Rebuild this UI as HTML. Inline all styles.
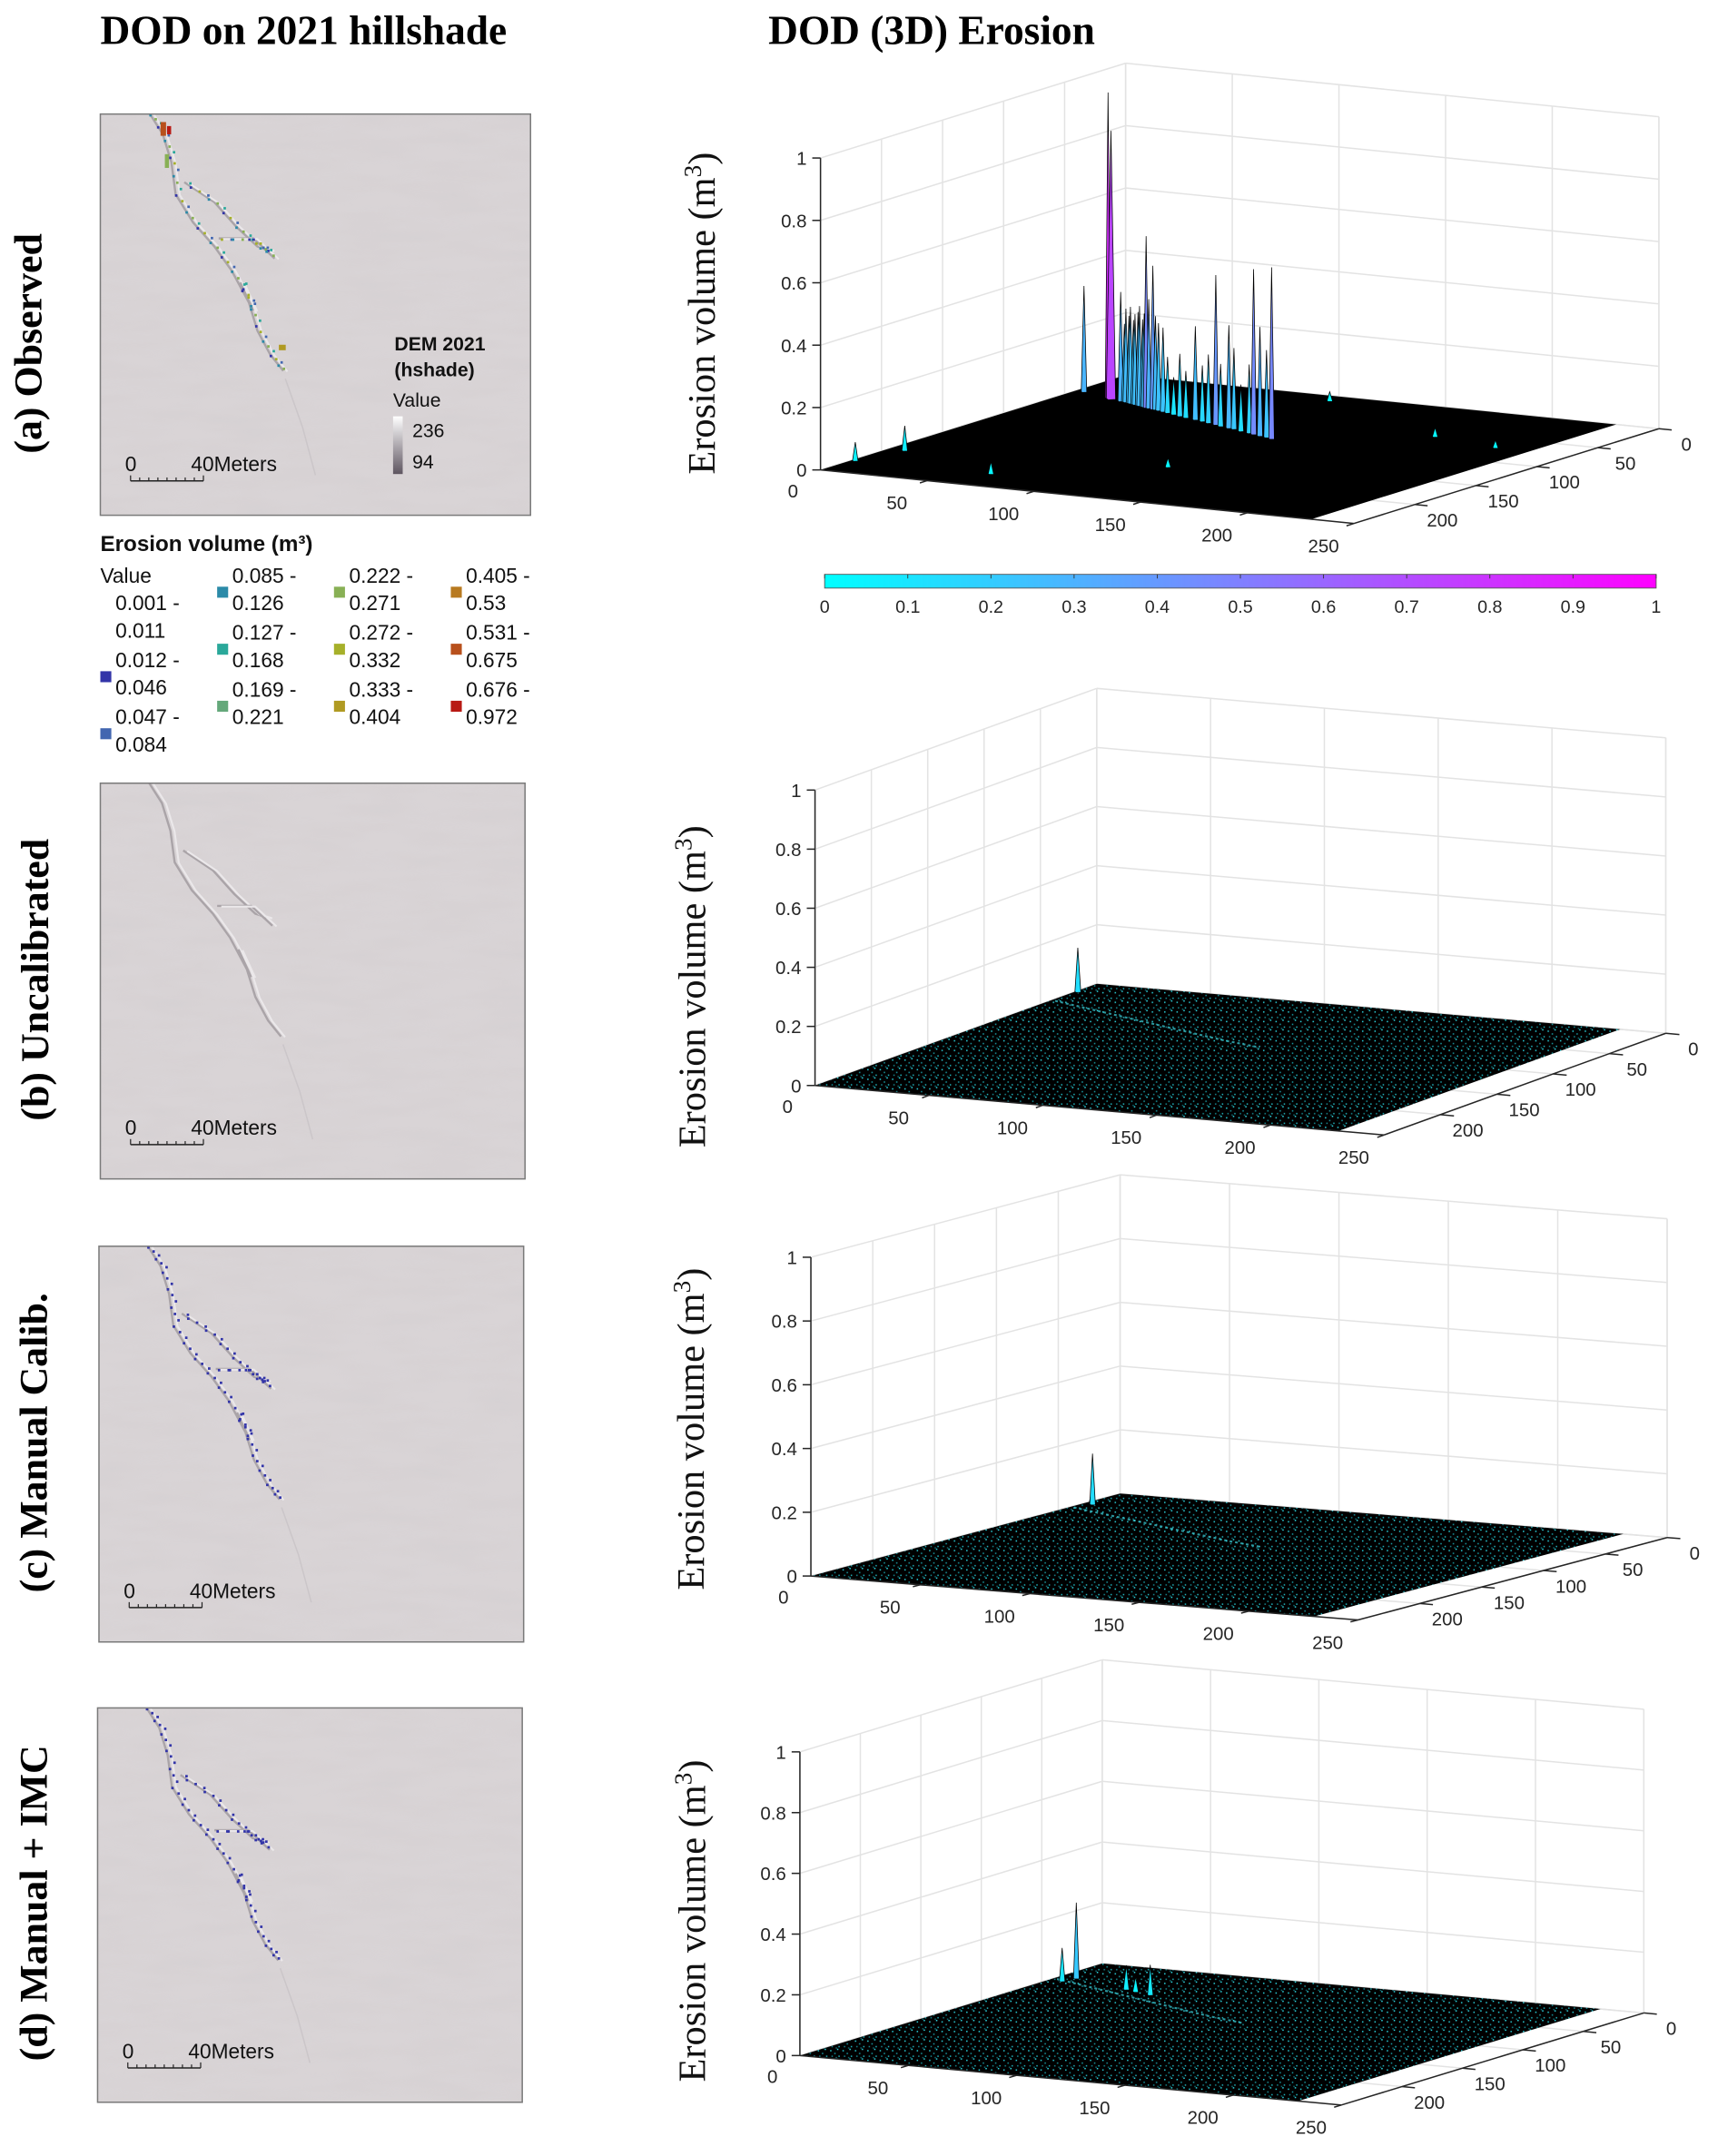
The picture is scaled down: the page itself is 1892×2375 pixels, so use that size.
<!DOCTYPE html>
<html><head><meta charset="utf-8">
<style>
html,body{margin:0;padding:0;background:#fff;}
body{width:1892px;height:2368px;overflow:hidden;position:relative;}
#stage{position:absolute;left:0;top:0;width:1250px;height:1564px;transform:scale(1.5136);transform-origin:0 0;}
svg text{font-family:"Liberation Sans",sans-serif;}
svg text.ser, svg .ser text{font-family:"Liberation Serif",serif;}
</style></head>
<body>
<div id="stage">
<svg id="fig" width="1250" height="1564" viewBox="0 0 1250 1564" xmlns="http://www.w3.org/2000/svg">
<defs>
 <filter id="hs" x="0" y="0" width="1" height="1">
  <feTurbulence type="fractalNoise" baseFrequency="0.02 0.09" numOctaves="3" seed="4" result="n"/>
  <feColorMatrix type="matrix" values="0 0 0 0 0.5  0 0 0 0 0.48  0 0 0 0 0.5  0 0 0 0.9 -0.3"/>
 </filter>
 <pattern id="speck" width="9" height="7" patternUnits="userSpaceOnUse">
  <rect x="0" y="0" width="9" height="7" fill="#000"/>
  <rect x="1" y="1" width="1" height="1" fill="#2bd0da"/>
  <rect x="4" y="3" width="1" height="1" fill="#1a9aa3"/>
  <rect x="6" y="0" width="1" height="1" fill="#30d8e2"/>
  <rect x="2" y="5" width="1" height="1" fill="#168890"/>
  <rect x="7" y="5" width="1" height="1" fill="#22b4bd"/>
  <rect x="5" y="6" width="1" height="1" fill="#0f6a70"/>
 </pattern>
 <linearGradient id="cool" x1="0" x2="1" y1="0" y2="0">
  <stop offset="0" stop-color="#00ffff"/><stop offset="1" stop-color="#ff00ff"/>
 </linearGradient>
 <linearGradient id="dem" x1="0" x2="0" y1="0" y2="1">
  <stop offset="0" stop-color="#ffffff"/><stop offset="1" stop-color="#5e5560"/>
 </linearGradient>
</defs>

<text class="ser" x="73" y="32" font-size="30" font-weight="bold">DOD on 2021 hillshade</text>
<text class="ser" x="559" y="32" font-size="30" font-weight="bold">DOD (3D) Erosion</text>

<g class="ser" font-size="29" font-weight="bold">
 <text class="ser" transform="translate(30,250) rotate(-90)" text-anchor="middle">(a) Observed</text>
 <text class="ser" transform="translate(35,713) rotate(-90)" text-anchor="middle">(b) Uncalibrated</text>
 <text class="ser" transform="translate(34,1050) rotate(-90)" text-anchor="middle">(c) Manual Calib.</text>
 <text class="ser" transform="translate(34,1385) rotate(-90)" text-anchor="middle">(d) Manual + IMC</text>
</g>

<g id="maps"></g>

<g>
 <text x="287" y="255" font-size="14" font-weight="bold" fill="#111">DEM 2021</text>
 <text x="287" y="274" font-size="14" font-weight="bold" fill="#111">(hshade)</text>
 <text x="286" y="296" font-size="14" fill="#111">Value</text>
 <rect x="286" y="303" width="7" height="42" fill="url(#dem)"/>
 <text x="300" y="318" font-size="14" fill="#111">236</text>
 <text x="300" y="341" font-size="14" fill="#111">94</text>
</g>

<g id="elegend">
 <text x="73" y="401" font-size="16" font-weight="bold" fill="#111">Erosion volume  (m³)</text>
 <text x="73" y="424" font-size="15" fill="#111">Value</text>
</g>

<g id="plots"></g>
</svg>
</div>
<script>
// ===== chart data =====
const panelNames = ['observed','uncalibrated','manual-calib','manual-imc'];
const zTicks = [0,0.2,0.4,0.6,0.8,1];
const zTickLabels = ['0','0.2','0.4','0.6','0.8','1'];
const xTicks = [50,100,150,200,250];
const yTicks = [0,50,100,150,200];
const cbTicks = [0,0.1,0.2,0.3,0.4,0.5,0.6,0.7,0.8,0.9,1];
// spikes (x, y, erosion volume m3)
const spikesA_x = [4.5,20,22,28,30,31,33,34,36,37,39,40,42,43,44.5,46,48.6,50,52,55,58,62,66,70,75.6,80,84,88.6,92,97,100,105,110,113,117,121,124.5,2,8,65,120,102,180,214];
const spikesA_y = [42,49.4,50.5,53,53.5,54,55,55.5,56.5,57,58,58.5,59.5,60,61,61.5,62.6,63,64,65.5,67,69,71,73,75,77,79,81,83,85,86,89,91,92.6,94.5,96,98,225,195,224,175,11,61,71];
const spikesA_z = [0.34,0.98,0.86,0.35,0.25,0.30,0.28,0.31,0.27,0.29,0.30,0.32,0.28,0.30,0.55,0.35,0.46,0.30,0.28,0.27,0.18,0.12,0.20,0.15,0.30,0.18,0.22,0.48,0.20,0.33,0.26,0.15,0.22,0.53,0.35,0.28,0.55,0.06,0.08,0.04,0.03,0.03,0.03,0.025];
const spikesB_x = [1.4];
const spikesB_y = [19.6];
const spikesB_z = [0.15];
const spikesC_x = [4.8,3];
const spikesC_y = [30.8,28];
const spikesC_z = [0.16,0.05];
const spikesD_x = [8.4,6.6,39,54,45];
const spikesD_y = [36.5,45,50,57,53];
const spikesD_z = [0.25,0.11,0.08,0.10,0.05];
// legend classes
const legendLabels = ['0.001 -|0.011','0.012 -|0.046','0.047 -|0.084','0.085 -|0.126','0.127 -|0.168','0.169 -|0.221','0.222 -|0.271','0.272 -|0.332','0.333 -|0.404','0.405 -|0.53','0.531 -|0.675','0.676 -|0.972'];
const legendColors = [null,'#3234a8','#4266b0','#2b8aa8','#2aa89a','#64a87a','#88b055','#a6b02a','#b09a22','#b87a20','#b8501c','#b81a14'];

// ===== layout =====
const NS='http://www.w3.org/2000/svg';
function mk(tag,attrs,parent){const e=document.createElementNS(NS,tag);for(const k in attrs)e.setAttribute(k,attrs[k]);if(parent)parent.appendChild(e);return e;}
const panels=[
 {L:[597,342],ex:[1.552,0.156],R:[1207,312],zs:227,sx:spikesA_x,sy:spikesA_y,sz:spikesA_z,speck:false,zl:[520,228],cb:true},
 {L:[593,790],ex:[1.656,0.144],R:[1212,752],zs:215,sx:spikesB_x,sy:spikesB_y,sz:spikesB_z,speck:true,zl:[513,718]},
 {L:[590,1147],ex:[1.592,0.128],R:[1213,1119],zs:232,sx:spikesC_x,sy:spikesC_y,sz:spikesC_z,speck:true,zl:[512,1040]},
 {L:[582,1496],ex:[1.576,0.144],R:[1196,1465],zs:221,sx:spikesD_x,sy:spikesD_y,sz:spikesD_z,speck:true,zl:[513,1398]}
];
const gullyPathX=[2,20,40,60,80,100,120];
const gullyPathY=[41,50,60,70,80,90,98];
function cool(v){v=Math.max(0,Math.min(1,v));return 'rgb('+Math.round(255*v)+','+Math.round(255*(1-v))+',255)';}
const plots=document.getElementById('plots');
panels.forEach((p,i)=>{
 const F=[p.L[0]+250*p.ex[0],p.L[1]+250*p.ex[1]];
 const ey=[(F[0]-p.R[0])/250,(F[1]-p.R[1])/250];
 const B=[p.L[0]+p.R[0]-F[0],p.L[1]+p.R[1]-F[1]];
 const P=(x,y,z)=>[B[0]+x*p.ex[0]+y*ey[0],B[1]+x*p.ex[1]+y*ey[1]-z*p.zs];
 const g=mk('g',{},plots);
 
 
 const line=(a,b,st,w)=>mk('line',{x1:a[0].toFixed(1),y1:a[1].toFixed(1),x2:b[0].toFixed(1),y2:b[1].toFixed(1),stroke:st,'stroke-width':w},g);
 const grid='#e3e3e3';
 zTicks.forEach(z=>{line(P(0,0,z),P(0,250,z),grid,1);line(P(0,0,z),P(250,0,z),grid,1);});
 [0,50,100,150,200,250].forEach(v=>{line(P(0,v,0),P(0,v,1),grid,1);line(P(v,0,0),P(v,0,1),grid,1);
   line(P(v,0,0),P(v,250,0),grid,1);line(P(0,v,0),P(250,v,0),grid,1);});
 line(P(250,0,0),P(250,0,1),grid,1);
 const pts=[P(0,0,0),P(230,0,0),P(230,250,0),P(0,250,0)].map(q=>q[0].toFixed(1)+','+q[1].toFixed(1)).join(' ');
 const pl=mk('polygon',{points:pts,fill:p.speck?'url(#speck)':'#000'},g);
 
 
 if(p.speck){
  const gp=gullyPathX.map((x,k)=>P(x,gullyPathY[k],0)).map(q=>q[0].toFixed(1)+','+q[1].toFixed(1)).join(' ');
  const gl=mk('polyline',{points:gp,fill:'none',stroke:'#3fd6e0','stroke-width':1.4,'stroke-dasharray':'2 2',opacity:0.7},g);
  
  
 }
 const idx=p.sx.map((_,k)=>k).sort((a,b)=>P(p.sx[a],p.sy[a],0)[1]-P(p.sx[b],p.sy[b],0)[1]);
 idx.forEach(k=>{
  const x=p.sx[k],y=p.sy[k],z=p.sz[k];
  const w=z>0.8&&z<0.9?2.2:1.3;
  const a=P(x-w,y,0),b=P(x+w,y,0),d=P(x,y+w,0),t=P(x,y,z);
  const s=mk('polygon',{points:[a,t,b,d].map(q=>q[0].toFixed(1)+','+q[1].toFixed(1)).join(' '),fill:cool(z*0.85),stroke:'#000','stroke-width':0.5},g);
  
  
 });
 const ax='#262626';
 line(P(0,250,0),P(0,250,1),ax,1);
 line(P(0,250,0),P(250,250,0),ax,1);
 line(P(250,250,0),P(250,0,0),ax,1);
 zTicks.forEach((z,j)=>{const q=P(0,250,z);line([q[0]-6,q[1]],q,ax,1);
  const t=mk('text',{x:q[0]-10,y:q[1]+5,'text-anchor':'end','font-size':13.5,fill:ax},g);t.textContent=zTickLabels[j];
  });
 const l0=P(0,250,0);const t0=mk('text',{x:l0[0]-20,y:l0[1]+20,'text-anchor':'middle','font-size':13.5,fill:ax},g);t0.textContent='0';
 xTicks.forEach(v=>{const q=P(v,250,0);line(q,[q[0]+ey[0]*6,q[1]+ey[1]*6],ax,1);
  const t=mk('text',{x:q[0]-22,y:q[1]+21,'text-anchor':'middle','font-size':13.5,fill:ax},g);t.textContent=v;
  });
 yTicks.forEach(v=>{const q=P(250,v,0);line(q,[q[0]+p.ex[0]*6,q[1]+p.ex[1]*6],ax,1);
  const t=mk('text',{x:q[0]+20,y:q[1]+16,'text-anchor':'middle','font-size':13.5,fill:ax},g);t.textContent=v;
  });
 const zl=mk('text',{transform:'translate('+p.zl[0]+','+p.zl[1]+') rotate(-90)','text-anchor':'middle','font-size':28,fill:'#111',class:'ser'},g);
 zl.innerHTML='Erosion volume (m<tspan dy="-10" font-size="18">3</tspan><tspan dy="10">)</tspan>';
 
 
 if(p.cb){
  const cg=mk('g',{},g);
  
  
  const x0=600,x1=1205;
  mk('rect',{x:x0,y:418,width:x1-x0,height:10,fill:'url(#cool)',stroke:'#555','stroke-width':0.6},cg);
  cbTicks.forEach(v=>{const x=x0+(x1-x0)*v;mk('line',{x1:x,y1:418,x2:x,y2:421,stroke:'#333','stroke-width':0.6},cg);
   const t=mk('text',{x:x,y:446,'text-anchor':'middle','font-size':13,fill:ax},cg);t.textContent=v;
   });
 }
});

// ===== maps =====
const maps=[[73,83,313,292],[73,570,309,288],[72,907,309,288],[71,1243,309,287]];
const trunk=[[0.12,0],[0.15,0.05],[0.17,0.12],[0.18,0.2],[0.22,0.27],[0.27,0.33],[0.31,0.39],[0.35,0.47],[0.37,0.54],[0.40,0.6],[0.43,0.64]];
const br1=[[0.2,0.17],[0.27,0.22],[0.32,0.28],[0.37,0.33],[0.40,0.34]];
const br2=[[0.28,0.31],[0.36,0.31],[0.41,0.36]];
const br3=[[0.33,0.42],[0.36,0.49]];
const mg=document.getElementById('maps');
maps.forEach((m,i)=>{
 const g=mk('g',{},mg);
 
 
 mk('rect',{x:m[0],y:m[1],width:m[2],height:m[3],fill:'#d9d4d6'},g);
 mk('rect',{x:m[0],y:m[1],width:m[2],height:m[3],filter:'url(#hs)',opacity:0.2},g);
 const toP=a=>a.map(q=>(m[0]+q[0]*m[2]).toFixed(1)+','+(m[1]+q[1]*m[3]).toFixed(1)).join(' ');
 [trunk,br1,br2,br3].forEach(b=>{
  mk('polyline',{points:toP(b),fill:'none',stroke:'#aaa4a8','stroke-width':1.6,transform:'translate(-1.5,0)'},g);
  mk('polyline',{points:toP(b),fill:'none',stroke:'#ebe8ea','stroke-width':1.4,transform:'translate(1.5,0.5)'},g);
 });
 mk('polyline',{points:toP([[0.43,0.66],[0.47,0.78],[0.5,0.9]]),fill:'none',stroke:'#cbc6c9','stroke-width':1},g);
 if(i!==1){
  const cols=i===0?['#2b8aa8','#88b055','#2aa89a','#3234a8','#a6b02a','#4266b0']:['#3234a8'];
  let c=0;
  [trunk,br1,br2,br3].forEach(b=>{
   for(let s=0;s<b.length-1;s++){for(let f=0;f<1;f+=0.2){
    const x=m[0]+(b[s][0]+(b[s+1][0]-b[s][0])*f)*m[2]+((c%3)-1)*2;
    const y=m[1]+(b[s][1]+(b[s+1][1]-b[s][1])*f)*m[3];
    mk('rect',{x:x.toFixed(1),y:y.toFixed(1),width:1.8,height:1.8,fill:cols[c%cols.length]},g);c++;}}
  });
  if(i===0){mk('rect',{x:m[0]+0.14*m[2],y:m[1]+0.02*m[3],width:4,height:10,fill:'#b8501c'},g);
   mk('rect',{x:m[0]+0.155*m[2],y:m[1]+0.03*m[3],width:3,height:6,fill:'#b81a14'},g);
   mk('rect',{x:m[0]+0.15*m[2],y:m[1]+0.1*m[3],width:3,height:10,fill:'#88b055'},g);
   mk('rect',{x:m[0]+0.415*m[2],y:m[1]+0.575*m[3],width:5,height:4,fill:'#b09a22'},g);}
 }
 mk('rect',{x:m[0],y:m[1],width:m[2],height:m[3],fill:'none',stroke:'#7a7a7a','stroke-width':1},g);
 const sx=m[0]+22,sy=m[1]+m[3]-25;
 const sb=mk('g',{},g);
 
 
 mk('line',{x1:sx,y1:sy,x2:sx+53,y2:sy,stroke:'#222','stroke-width':1},sb);
 for(let k=0;k<=8;k++)mk('line',{x1:sx+k*53/8,y1:sy-(k%8==0?4:2.5),x2:sx+k*53/8,y2:sy,stroke:'#222','stroke-width':0.8},sb);
 const t1=mk('text',{x:sx-4,y:sy-7,'font-size':15,fill:'#111'},sb);t1.textContent='0';
 const t2=mk('text',{x:sx+44,y:sy-7,'font-size':15,fill:'#111'},sb);t2.textContent='40Meters';
});

// ===== erosion legend =====
const eg=document.getElementById('elegend');
legendLabels.forEach((lab,k)=>{
 let col,row;
 if(k<3){col=0;row=k;}else{col=Math.floor((k-3)/3)+1;row=(k-3)%3;}
 const x=[73,158,243,328][col];
 const y0=(col===0?438:418)+row*41.5;
 const parts=lab.split('|');
 const ent=mk('g',{},eg);
 
 
 if(legendColors[k])mk('rect',{x:x,y:y0+9,width:8,height:8,fill:legendColors[k]},ent);
 const a=mk('text',{x:x+11,y:y0+6,'font-size':15,fill:'#111'},ent);a.textContent=parts[0];
 const b=mk('text',{x:x+11,y:y0+26,'font-size':15,fill:'#111'},ent);b.textContent=parts[1];
});
</script>
</body></html>
